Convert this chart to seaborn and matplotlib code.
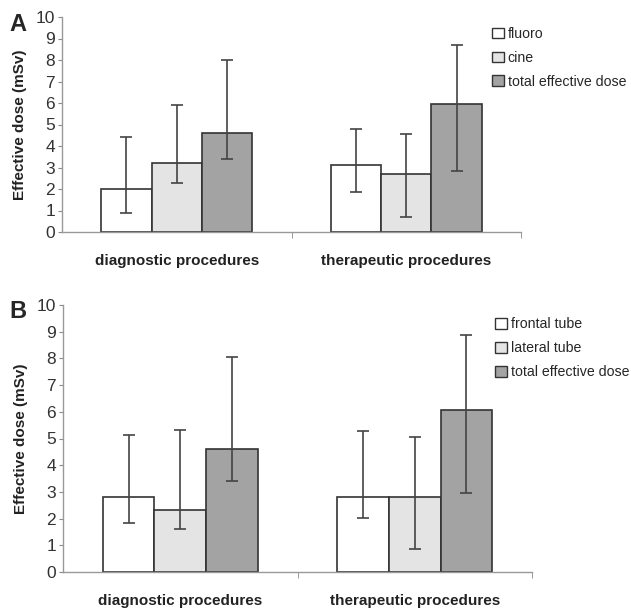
import numpy as np
import pandas as pd
import seaborn as sns
import matplotlib.pyplot as plt
from matplotlib.ticker import FixedLocator

sns.set_style("white")
plt.rcParams['font.family'] = ['Liberation Sans', 'DejaVu Sans']

categories = ["diagnostic procedures", "therapeutic procedures"]

# panel A
seriesA = ["fluoro", "cine", "total effective dose"]
meanA = [[2.0, 3.1], [3.2, 2.7], [4.6, 5.95]]
lowA = [[0.9, 1.86], [2.3, 0.72], [3.4, 2.85]]
highA = [[4.4, 4.78], [5.9, 4.56], [8.0, 8.7]]

# panel B
seriesB = ["frontal tube", "lateral tube", "total effective dose"]
meanB = [[2.82, 2.82], [2.32, 2.82], [4.62, 6.05]]
lowB = [[1.82, 2.02], [1.62, 0.86], [3.42, 2.97]]
highB = [[5.12, 5.27], [5.32, 5.05], [8.05, 8.87]]

colors = ["#ffffff", "#e4e4e4", "#a3a3a3"]


def makeFrame(series, mean, low, high):
    rows = []
    for i, s in enumerate(series):
        for j, c in enumerate(categories):
            rows.append({"cat": c, "series": s, "value": mean[i][j],
                         "low": low[i][j], "high": high[i][j]})
    return pd.DataFrame(rows)


def drawPanel(ax, df, series, letter, legX, legY):
    sns.barplot(data=df, x="cat", y="value", hue="series", hue_order=series,
                order=categories, palette=colors, width=0.66, gap=0,
                errorbar=None, edgecolor="#333333", linewidth=1.2, ax=ax)
    # asymmetric error bars at bar centres
    for cont, s in zip(ax.containers, series):
        sub = df[df["series"] == s].set_index("cat").loc[categories]
        xs = [p.get_x() + p.get_width() / 2 for p in cont.patches]
        ys = sub["value"].to_numpy()
        yerr = np.vstack([ys - sub["low"].to_numpy(), sub["high"].to_numpy() - ys])
        ax.errorbar(xs, ys, yerr=yerr, fmt="none", ecolor="#444444",
                    elinewidth=1.2, capsize=4, capthick=1.2, zorder=5)
    ax.set_ylim(0, 10)
    ax.set_xlim(-0.5, 1.5)
    ax.set_yticks(range(0, 11))
    ax.set_xlabel("")
    ax.set_ylabel("Effective dose (mSv)", fontsize=11, fontweight="bold",
                  color="#222222", labelpad=6)
    ax.tick_params(axis="y", labelsize=12.5, colors="#333333", length=3,
                   left=True, color="#888888", pad=2)
    ax.tick_params(axis="x", which="major", length=0, labelsize=11, pad=16)
    ax.xaxis.set_minor_locator(FixedLocator([0.5, 1.5]))
    ax.tick_params(axis="x", which="minor", length=4, bottom=True, color="#888888")
    for lab in ax.get_xticklabels():
        lab.set_fontweight("bold")
        lab.set_color("#222222")
    sns.despine(ax=ax)
    for sp in ["left", "bottom"]:
        ax.spines[sp].set_color("#999999")
        ax.spines[sp].set_linewidth(1.0)
    leg = ax.legend(loc="upper left", bbox_to_anchor=(legX, legY), frameon=False,
                    fontsize=10.2, handlelength=0.8, handleheight=0.8,
                    handletextpad=0.3, labelspacing=0.7, borderaxespad=0)
    for h in leg.legend_handles:
        h.set_edgecolor("#333333")
        h.set_linewidth(1.0)
    ax.text(-0.115, 1.02, letter, transform=ax.transAxes, fontsize=17,
            fontweight="bold", va="top", ha="left")


fig = plt.figure(figsize=(6.31, 6.08), dpi=100)
W, H = 631, 608
axA = fig.add_axes([62 / W, 1 - 232 / H, (521 - 62) / W, (232 - 17) / H])
axB = fig.add_axes([63 / W, 1 - 572 / H, (532 - 63) / W, (572 - 305) / H])

drawPanel(axA, makeFrame(seriesA, meanA, lowA, highA), seriesA, "A", 0.925, 0.98)
drawPanel(axB, makeFrame(seriesB, meanB, lowB, highB), seriesB, "B", 0.91, 0.975)

fig.savefig("out.png", dpi=100, facecolor="white")
